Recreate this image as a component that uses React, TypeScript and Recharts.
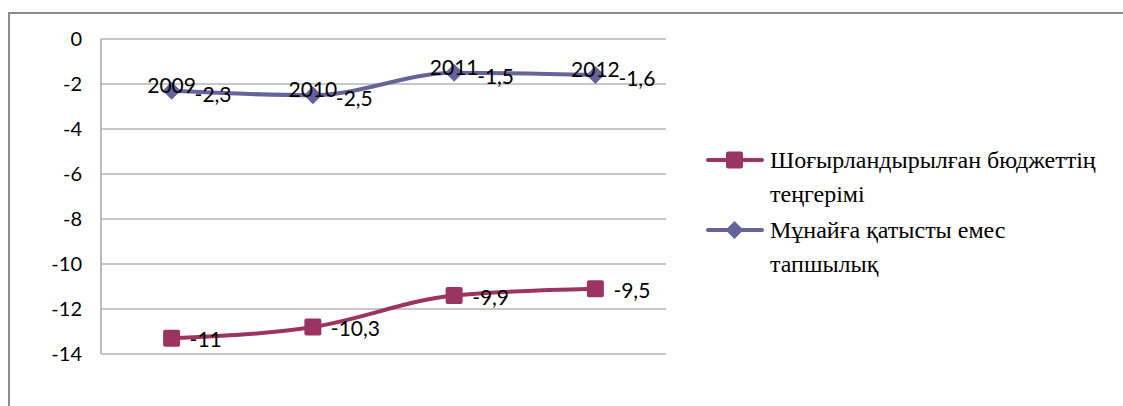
import { AreaChart, Area, XAxis, YAxis, CartesianGrid, LabelList } from 'recharts'

const years = ['2009', '2010', '2011', '2012']
// Мұнайға қатысты емес тапшылық (bottom of the stack)
const nonOilDeficit = [-2.3, -2.5, -1.5, -1.6]
// Шоғырландырылған бюджеттің теңгерімі (stacked on top of the first)
const budgetBalance = [-11, -10.3, -9.9, -9.5]
const yTicks = [0, -2, -4, -6, -8, -10, -12, -14]

const PURPLE = '#9b3462'
const SLATE = '#64649a'
const labelFont = 'Lato, "DejaVu Sans", sans-serif'

const data = years.map((year, i) => ({ year, nonOil: nonOilDeficit[i], budget: budgetBalance[i] }))

const fmt = (v: number) => String(v).replace('.', ',')

const Diamond = (p: any) => {
  const { cx, cy, index } = p
  if (cx == null || cy == null) return <g key={`d${index}`} />
  const r = 9
  return (
    <path key={`d${index}`} d={`M${cx},${cy - r}L${cx + r},${cy}L${cx},${cy + r}L${cx - r},${cy}Z`} fill={SLATE} />
  )
}

const Square = (p: any) => {
  const { cx, cy, index } = p
  if (cx == null || cy == null) return <g key={`s${index}`} />
  const s = 17
  return <rect key={`s${index}`} x={cx - s / 2} y={cy - s / 2} width={s} height={s} rx={2} fill={PURPLE} />
}

const nonOilLabel = (p: any) => {
  const { x, y, index } = p
  return (
    <g key={`nl${index}`} style={{ fontFamily: labelFont, fontSize: 21 }} fill="#000">
      <text x={x} y={y + 2} textAnchor="middle">{years[index]}</text>
      <text x={x + 23} y={y + 11} textAnchor="start">{fmt(nonOilDeficit[index])}</text>
    </g>
  )
}

const budgetLabel = (p: any) => {
  const { x, y, index } = p
  return (
    <text key={`bl${index}`} x={x + 18} y={y + 9} textAnchor="start" fill="#000"
      style={{ fontFamily: labelFont, fontSize: 21 }}>
      {fmt(budgetBalance[index])}
    </text>
  )
}

const legendItems = [
  { name: ['Шоғырландырылған бюджеттің', 'теңгерімі'], color: PURPLE, marker: 'square' },
  { name: ['Мұнайға қатысты емес', 'тапшылық'], color: SLATE, marker: 'diamond' },
]

export default function App() {
  return (
    <div style={{ position: 'absolute', left: 0, top: 0, width: 1123, height: 406, background: '#fff', overflow: 'hidden' }}>
      {/* outer chart frame */}
      <div style={{ position: 'absolute', left: 8, top: 12, width: 1130, height: 420, borderLeft: '2px solid #8c8c8c', borderTop: '2px solid #8c8c8c' }} />
      <AreaChart width={1123} height={406} data={data} margin={{ top: 39, right: 457, bottom: 52, left: 0 }}>
        <CartesianGrid vertical={false} stroke="#b4b4b4" strokeWidth={1.5} />
        <XAxis dataKey="year" hide padding={{ left: 70.6, right: 70.6 }} />
        <YAxis
          width={101}
          domain={[-14, 0]}
          ticks={yTicks}
          interval={0}
          tickLine={false}
          tickSize={0}
          tickMargin={19}
          axisLine={{ stroke: '#a6a6a6', strokeWidth: 1.5 }}
          tick={{ fill: '#000', fontSize: 20, fontFamily: labelFont }}
        />
        <Area
          type="monotone"
          dataKey="nonOil"
          stackId="a"
          stroke={SLATE}
          strokeWidth={4}
          fill="none"
          dot={Diamond}
          activeDot={false}
          isAnimationActive={false}
        >
          <LabelList dataKey="nonOil" content={nonOilLabel} />
        </Area>
        <Area
          type="monotone"
          dataKey="budget"
          stackId="a"
          stroke={PURPLE}
          strokeWidth={4}
          fill="none"
          dot={Square}
          activeDot={false}
          isAnimationActive={false}
        >
          <LabelList dataKey="budget" content={budgetLabel} />
        </Area>
      </AreaChart>
      <div style={{ position: 'absolute', left: 706, top: 143, fontFamily: '"Liberation Serif", "DejaVu Serif", serif', fontSize: 24, lineHeight: '34px', color: '#000', whiteSpace: 'nowrap' }}>
        {legendItems.map((it) => (
          <div key={it.name[0]} style={{ position: 'relative', paddingLeft: 64, marginBottom: 2 }}>
            <svg width={58} height={20} style={{ position: 'absolute', left: 0, top: 7 }}>
              <line x1={2} y1={10} x2={56} y2={10} stroke={it.color} strokeWidth={4} strokeLinecap="round" />
              {it.marker === 'square'
                ? <rect x={20} y={1.5} width={17} height={17} rx={2} fill={it.color} />
                : <path d="M28.5,1L37.5,10L28.5,19L19.5,10Z" fill={it.color} />}
            </svg>
            <div>{it.name[0]}</div>
            <div>{it.name[1]}</div>
          </div>
        ))}
      </div>
    </div>
  )
}
